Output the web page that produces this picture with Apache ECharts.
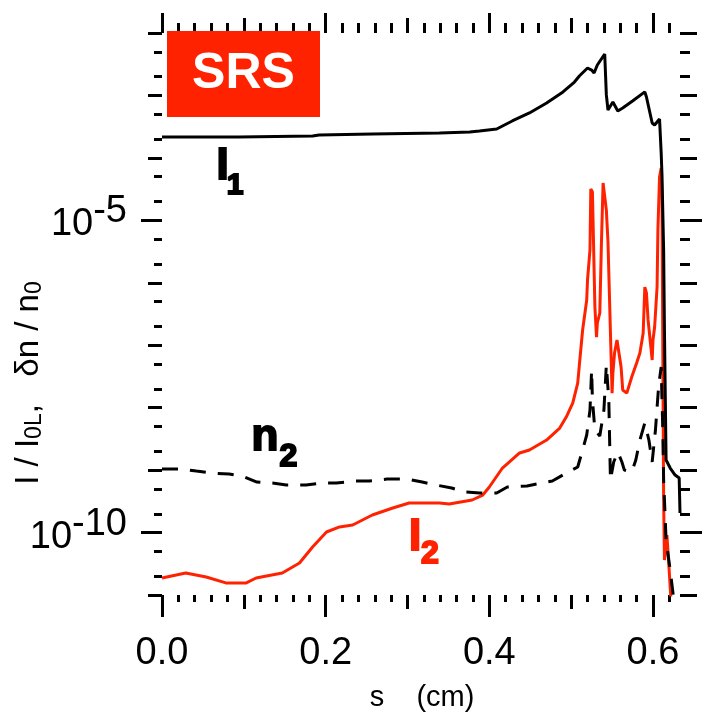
<!DOCTYPE html>
<html>
<head>
<meta charset="utf-8">
<script src="https://cdn.jsdelivr.net/npm/echarts@6/dist/echarts.min.js"></script>
<style>
  html, body { margin: 0; padding: 0; background: #fff; }
  #chart { width: 709px; height: 719px; }
</style>
</head>
<body>
<div id="chart"></div>
<script>
// --- data ---
const i1X = [0, 0.094, 0.184, 0.192, 0.257, 0.339, 0.376, 0.388, 0.409, 0.428, 0.449, 0.470, 0.490, 0.504, 0.510, 0.520, 0.525, 0.528, 0.532, 0.541, 0.543, 0.545, 0.551, 0.557, 0.563, 0.575, 0.590, 0.592, 0.599, 0.602, 0.608, 0.610, 0.611, 0.613, 0.614, 0.616, 0.621, 0.627, 0.632, 0.633];
const i1Y = [2.16e-4, 2.16e-4, 2.24e-4, 2.32e-4, 2.41e-4, 2.50e-4, 2.59e-4, 2.69e-4, 2.90e-4, 3.90e-4, 5.24e-4, 7.57e-4, 1.14e-3, 1.64e-3, 2.05e-3, 2.75e-3, 2.55e-3, 2.29e-3, 3.07e-3, 4.61e-3, 1.02e-3, 5.85e-4, 7.85e-4, 5.64e-4, 6.29e-4, 8.14e-4, 1.14e-3, 9.44e-4, 3.62e-4, 3.36e-4, 4.20e-4, 1.20e-4, 5.32e-5, 3.35e-6, 1.75e-7, 1.45e-9, 1.08e-9, 8.34e-10, 7.46e-10, 2.05e-10];

const n2X = [0, 0.024, 0.042, 0.061, 0.082, 0.098, 0.116, 0.135, 0.152, 0.176, 0.196, 0.213, 0.235, 0.253, 0.275, 0.299, 0.318, 0.335, 0.354, 0.370, 0.388, 0.409, 0.422, 0.446, 0.464, 0.477, 0.494, 0.508, 0.514, 0.519, 0.523, 0.525, 0.526, 0.529, 0.535, 0.540, 0.543, 0.546, 0.547, 0.548, 0.552, 0.557, 0.562, 0.565, 0.574, 0.579, 0.584, 0.590, 0.595, 0.599, 0.603, 0.607, 0.610, 0.611, 0.612, 0.613, 0.616, 0.621, 0.625];
const n2Y = [1.04e-9, 1.04e-9, 9.66e-10, 8.97e-10, 8.65e-10, 8.04e-10, 6.44e-10, 6.21e-10, 5.77e-10, 5.77e-10, 6.21e-10, 6.21e-10, 6.68e-10, 6.68e-10, 7.19e-10, 7.19e-10, 6.44e-10, 5.77e-10, 5.17e-10, 4.46e-10, 4.30e-10, 4.30e-10, 5.36e-10, 5.56e-10, 6.21e-10, 6.68e-10, 8.97e-10, 1.12e-9, 2.10e-9, 3.65e-9, 9.16e-9, 4.01e-8, 1.33e-8, 4.39e-9, 3.52e-9, 9.16e-9, 4.82e-8, 1.33e-8, 3.03e-9, 6.94e-10, 1.35e-9, 1.95e-9, 1.35e-9, 1.00e-9, 9.31e-10, 1.45e-9, 3.03e-9, 5.68e-9, 3.03e-9, 1.35e-9, 4.39e-9, 2.31e-8, 4.48e-8, 1.33e-8, 4.39e-9, 6.94e-10, 7.59e-11, 2.51e-11, 9.27e-12];

const i2X = [0, 0.029, 0.054, 0.078, 0.103, 0.115, 0.147, 0.168, 0.184, 0.201, 0.217, 0.233, 0.257, 0.282, 0.302, 0.339, 0.351, 0.379, 0.392, 0.400, 0.416, 0.437, 0.449, 0.470, 0.486, 0.494, 0.502, 0.508, 0.510, 0.514, 0.519, 0.520, 0.523, 0.524, 0.526, 0.529, 0.531, 0.532, 0.535, 0.537, 0.539, 0.541, 0.543, 0.545, 0.547, 0.550, 0.551, 0.553, 0.556, 0.558, 0.561, 0.563, 0.568, 0.574, 0.580, 0.584, 0.588, 0.590, 0.592, 0.594, 0.599, 0.600, 0.602, 0.605, 0.606, 0.608, 0.610, 0.611, 0.612, 0.613, 0.614, 0.617, 0.619, 0.622];
const i2Y = [1.87e-11, 2.25e-11, 1.94e-11, 1.56e-11, 1.56e-11, 1.87e-11, 2.25e-11, 3.25e-11, 5.86e-11, 1.02e-10, 1.23e-10, 1.32e-10, 1.91e-10, 2.47e-10, 2.97e-10, 2.97e-10, 2.86e-10, 3.32e-10, 3.99e-10, 5.36e-10, 1.08e-9, 1.88e-9, 2.10e-9, 3.03e-9, 4.72e-9, 7.08e-9, 1.19e-8, 2.48e-8, 4.82e-8, 1.75e-7, 5.30e-7, 1.11e-6, 3.35e-6, 3.17e-5, 2.84e-5, 4.09e-7, 1.35e-7, 2.27e-7, 3.28e-7, 4.34e-6, 3.96e-5, 4.26e-5, 1.46e-5, 4.50e-6, 4.34e-6, 1.71e-8, 3.59e-8, 7.50e-8, 1.21e-7, 1.30e-7, 4.48e-8, 1.92e-8, 1.71e-8, 3.10e-8, 5.19e-8, 7.50e-8, 1.57e-7, 8.55e-7, 6.86e-7, 2.54e-7, 5.79e-8, 1.21e-7, 1.96e-7, 8.55e-7, 7.00e-6, 4.94e-5, 6.89e-5, 2.11e-5, 8.37e-8, 3.32e-10, 3.63e-11, 9.13e-11, 3.63e-11, 8.30e-12];

// tick positions
const xMajor = [0, 0.2, 0.4, 0.6];
const xMedium = [0.1, 0.3, 0.5];
const xMinor = [0.02, 0.04, 0.06, 0.08, 0.12, 0.14, 0.16, 0.18, 0.22, 0.24, 0.26, 0.28, 0.32, 0.34, 0.36, 0.38, 0.42, 0.44, 0.46, 0.48, 0.52, 0.54, 0.56, 0.58, 0.62];
const yLabeled = [1e-5, 1e-10];
const yDecades = [1e-2, 1e-3, 1e-4, 1e-5, 1e-6, 1e-7, 1e-8, 1e-9, 1e-10, 1e-11];
const yMinor = [5e-3, 2e-3, 5e-4, 2e-4, 5e-5, 2e-5, 5e-6, 2e-6, 5e-7, 2e-7, 5e-8, 2e-8, 5e-9, 2e-9, 5e-10, 2e-10, 5e-11, 2e-11];

const RED = '#ff2200';
const FONT = '"Liberation Sans", Arial, Helvetica, sans-serif';

const chart = echarts.init(document.getElementById('chart'));

function zip(xs, ys) {
  return xs.map((x, i) => [x, ys[i]]);
}

function xAx(position, ticks, len, withLabels) {
  return {
    type: 'value', position: position, min: 0, max: 0.633,
    axisLine: { show: false, onZero: false },
    splitLine: { show: false },
    axisTick: { show: true, customValues: ticks, length: len, lineStyle: { color: '#000', width: 3 } },
    axisLabel: withLabels ? {
      show: true, customValues: ticks, margin: 40,
      color: '#000', fontSize: 38, fontFamily: FONT,
      formatter: v => v.toFixed(1)
    } : { show: false }
  };
}

function yAx(position, ticks, len, withLabels) {
  return {
    type: 'log', logBase: 10, position: position, min: 0.9999e-11, max: 1.0001e-2,
    axisLine: { show: false, onZero: false },
    splitLine: { show: false },
    minorTick: { show: false },
    axisTick: { show: true, customValues: ticks, length: len, lineStyle: { color: '#000', width: 3 } },
    axisLabel: withLabels ? {
      show: true, customValues: ticks, margin: 35,
      color: '#000', fontFamily: FONT,
      formatter: v => '{b|10}{s|' + Math.round(Math.log10(v)) + '}',
      rich: {
        b: { fontSize: 38, fontFamily: FONT, color: '#000', padding: [9, 0, 0, 0] },
        s: { fontSize: 38, fontFamily: FONT, color: '#000', padding: [0, 0, 17, 0] }
      }
    } : { show: false }
  };
}

function label(text, x, y, size, color, stroke) {
  return {
    type: 'text', x: x, y: y, z: 100,
    style: {
      text: text, fill: color, fontSize: size, fontWeight: 'bold', fontFamily: FONT,
      align: 'center', verticalAlign: 'middle',
      stroke: stroke ? color : null, lineWidth: stroke ? 2 : 0
    }
  };
}

const option = {
  animation: false,
  backgroundColor: '#fff',
  grid: { left: 162, top: 33, width: 518, height: 562, outerBoundsMode: 'none' },
  xAxis: [
    xAx('bottom', xMajor, 22, true),
    xAx('bottom', xMedium, 14, false),
    xAx('bottom', xMinor, 7, false),
    xAx('top', xMajor, 20, false),
    xAx('top', xMedium, 15, false),
    xAx('top', xMinor, 10, false)
  ],
  yAxis: [
    yAx('left', yLabeled, 21, true),
    yAx('left', yDecades, 14, false),
    yAx('left', yMinor, 8, false),
    yAx('right', yLabeled, 22, false),
    yAx('right', yDecades, 17, false),
    yAx('right', yMinor, 10, false)
  ],
  series: [
    {
      name: 'I2', type: 'line', data: zip(i2X, i2Y), showSymbol: false, z: 2,
      lineStyle: { color: RED, width: 3 }
    },
    {
      name: 'n2', type: 'line', data: zip(n2X, n2Y), showSymbol: false, z: 3,
      lineStyle: { color: '#000', width: 3, type: [16, 12] }
    },
    {
      name: 'I1', type: 'line', data: zip(i1X, i1Y), showSymbol: false, z: 4,
      lineStyle: { color: '#000', width: 3 }
    }
  ],
  graphic: [
    { type: 'rect', z: 90, shape: { x: 167, y: 31, width: 153, height: 86 }, style: { fill: RED } },
    label('SRS', 243.5, 74, 50, '#fff', false),
    label('I', 222.5, 167, 44, '#000', true),
    label('1', 235, 186, 30, '#000', true),
    label('n', 265, 438, 44, '#000', true),
    label('2', 288.5, 457, 32, '#000', true),
    label('I', 415, 538, 44, RED, true),
    label('2', 430, 554, 32, RED, true),
    {
      type: 'text', x: 29, y: 383, rotation: Math.PI / 2, z: 100,
      style: {
        text: '{m|I / I}{s|0L}{m|,   δn / n}{s|0}',
        fill: '#000', align: 'center', verticalAlign: 'middle',
        rich: {
          m: { fontSize: 33, fontFamily: FONT, fill: '#000' },
          s: { fontSize: 23, fontFamily: FONT, fill: '#000', padding: [12, 0, 0, 0] }
        }
      }
    },
    {
      type: 'text', x: 422, y: 698, z: 100,
      style: { text: 's    (cm)', fill: '#000', fontSize: 29, fontFamily: FONT, align: 'center', verticalAlign: 'middle' }
    }
  ]
};

chart.setOption(option);
</script>
</body>
</html>
